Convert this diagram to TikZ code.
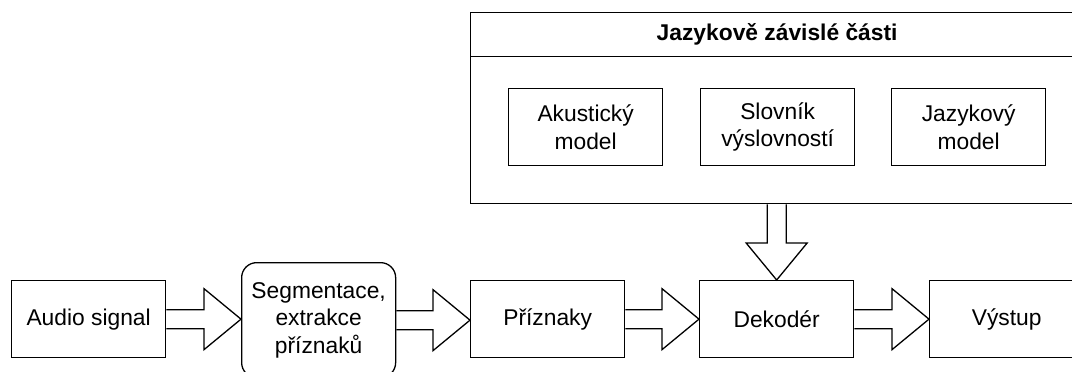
\documentclass[tikz,border=0pt]{standalone}
\usepackage{fontspec}
\setmainfont{Liberation Sans}
\usepackage{tikz}
\usetikzlibrary{calc}

\tikzset{
 blok/.style={draw,line width=1.3pt,fill=white,minimum width=154pt,minimum height=77pt,align=center,font=\fontsize{22.8pt}{27.5pt}\selectfont},
 sipka/.style={draw,line width=1.3pt,line join=miter}
}

\newcommand{\vodorovnasipka}[2]{%
 \draw[sipka] let \p1=(#1.east), \p2=(#2.west) in
  (\x1,\y1+9.5pt) -- (\x2-37pt,\y1+9.5pt) -- (\x2-37pt,\y1+30.5pt) -- (\x2,\y1)
  -- (\x2-37pt,\y1-30.5pt) -- (\x2-37pt,\y1-9.5pt) -- (\x1,\y1-9.5pt);}
\newcommand{\svislasipka}[2]{%
 \draw[sipka] let \p1=(#1.south), \p2=(#2.north) in
  (\x2-9.5pt,\y1) -- (\x2-9.5pt,\y2+37pt) -- (\x2-30.5pt,\y2+37pt) -- (\x2,\y2)
  -- (\x2+30.5pt,\y2+37pt) -- (\x2+9.5pt,\y2+37pt) -- (\x2+9.5pt,\y1);}

\begin{document}
\begin{tikzpicture}[x=1pt,y=-1pt]
 \useasboundingbox (0,0) rectangle (1072,372);
 \clip (0,0) rectangle (1072,372);

 \node[blok,anchor=north west,minimum width=613pt,minimum height=44pt,font=\fontsize{22.8pt}{27.5pt}\selectfont\bfseries] (hlavicka) at (470,12) {Jazykově závislé části};
 \node[blok,anchor=north west,minimum width=613pt,minimum height=147pt] (jazcasti) at (470,56) {};
 \node[blok,anchor=north west] (akustmodel) at (508,88) {Akustický\\model};
 \node[blok,anchor=north west] (slovnik) at (700,88) {Slovník\\výslovností};
 \node[blok,anchor=north west] (jazmodel) at (891,88) {Jazykový\\model};

 \node[blok,anchor=north west] (audio) at (11,280) {Audio signal};
 \node[blok,anchor=north west,minimum height=115pt,rounded corners=15pt] (segment) at (241,262) {Segmentace,\\extrakce\\příznaků};
 \node[blok,anchor=north west] (priznaky) at (470,280) {Příznaky};
 \node[blok,anchor=north west] (dekoder) at (699,280) {Dekodér};
 \node[blok,anchor=north west] (vystup) at (929,280) {Výstup};

 \vodorovnasipka{audio}{segment}
 \vodorovnasipka{segment}{priznaky}
 \vodorovnasipka{priznaky}{dekoder}
 \vodorovnasipka{dekoder}{vystup}
 \svislasipka{jazcasti}{dekoder}
\end{tikzpicture}
\end{document}
